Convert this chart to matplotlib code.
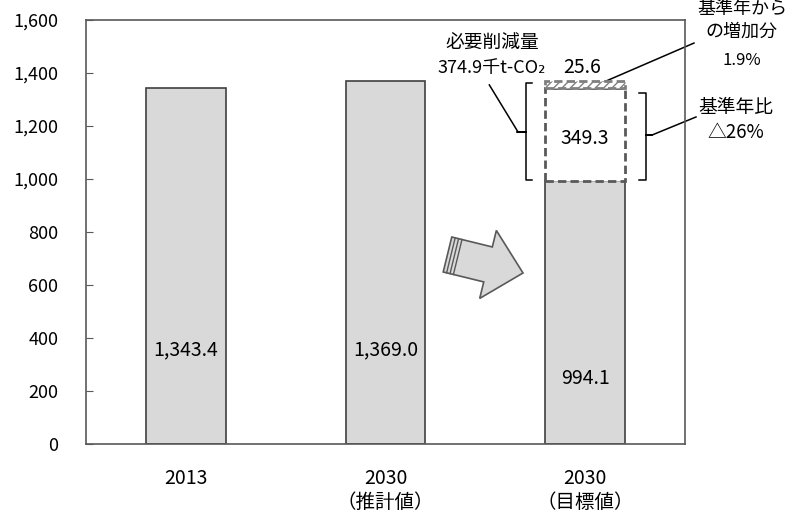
import numpy as np
import matplotlib
matplotlib.use("Agg")
import matplotlib.pyplot as plt
from matplotlib.patches import Rectangle, Polygon

plt.rcParams['font.family'] = ['Noto Sans CJK JP', 'DejaVu Sans']

# data
categories = ["2013", "2030\n（推計値）", "2030\n（目標値）"]
emissions = [1343.4, 1369.0, 994.1]
bar_labels = ["1,343.4", "1,369.0", "994.1"]
reduction_base = 349.3     # 基準年比 reduction
reduction_growth = 25.6    # 基準年からの増加分
reduction_total = 374.9
yticks = [0, 200, 400, 600, 800, 1000, 1200, 1400, 1600]

_C = {"bar": "#d9d9d9", "edge": "#404040", "axis": "#595959", "dash": "#595959"}

W, H = 792, 513
fig = plt.figure(figsize=(W / 100, H / 100), dpi=100)
ax = fig.add_axes([86 / W, 1 - 444 / H, (685 - 86) / W, (444 - 20) / H])

x = np.arange(len(categories))
bw = 0.4
ax.bar(x, emissions, width=bw, color=_C["bar"], edgecolor=_C["edge"], lw=1.2, zorder=2)

# stacked reduction boxes on the target bar
top0 = emissions[2]
ax.add_patch(Rectangle((x[2] - bw / 2, top0), bw, reduction_base, facecolor="white",
                       edgecolor=_C["dash"], lw=2, ls=(0, (3, 1.5)), zorder=3))
ax.add_patch(Rectangle((x[2] - bw / 2, top0 + reduction_base), bw, reduction_growth,
                       facecolor="white", edgecolor="#7f7f7f", hatch="////", lw=2,
                       ls=(0, (3, 1.5)), zorder=3))

ax.set_xlim(-0.5, 2.5)
ax.set_ylim(0, 1600)
ax.set_yticks(yticks)
ax.set_yticklabels([f"{v:,}" for v in yticks], fontsize=13)
ax.set_xticks(x)
ax.set_xticklabels(categories, fontsize=14, linespacing=1.2)
ax.tick_params(axis="y", direction="in", length=5, pad=20, color=_C["axis"])
ax.tick_params(axis="x", length=0, pad=17)
for s in ax.spines.values():
    s.set_color(_C["axis"])
    s.set_linewidth(1.2)

# value labels
label_y = [355, 355, 249]
for xi, ly, t in zip(x, label_y, bar_labels):
    ax.text(xi, ly, t, ha="center", va="center", fontsize=14, zorder=4)
ax.text(x[2], top0 + reduction_base / 2 - 15, f"{reduction_base:.1f}", ha="center",
        va="center", fontsize=14, zorder=4)
ax.text(1.985, 1419, f"{reduction_growth:.1f}", ha="center", va="center", fontsize=14)
ax.text(1.535, 1517, "必要削減量", ha="center", va="center", fontsize=13.5)
ax.text(1.53, 1419, f"{reduction_total:.1f}千t-CO₂", ha="center", va="center", fontsize=13)

kw = dict(ha="center", va="center", clip_on=False)
ax.text(2.785, 1643, "基準年から", fontsize=13, **kw)
ax.text(2.785, 1557, "の増加分", fontsize=13, **kw)
ax.text(2.785, 1449, "1.9%", fontsize=12, **kw)
ax.text(2.755, 1268, "基準年比", fontsize=13.5, **kw)
ax.text(2.755, 1174, "△26%", fontsize=13.5, **kw)

# braces
lk = dict(color="black", lw=1.1, clip_on=False)
ax.plot([1.735, 1.705, 1.705, 1.66, 1.705, 1.705, 1.735],
        [1362, 1362, 1179, 1179, 1179, 996, 996], **lk)
ax.plot([2.27, 2.305, 2.305, 2.335, 2.305, 2.305, 2.27],
        [1325, 1325, 1166, 1166, 1166, 996, 996], **lk)
# leader lines
ax.plot([1.52, 1.66], [1355, 1182], **lk)
ax.plot([2.335, 2.555], [1166, 1234], **lk)
ax.plot([2.035, 2.545], [1347, 1513], **lk)

# block arrow (pixel geometry -> figure fraction)
tail = np.array([447.5, 254.5])
tip = np.array([523.0, 273.0])
d = (tip - tail) / np.linalg.norm(tip - tail)
n = np.array([-d[1], d[0]])
hl, tw, hw = 36, 18, 35
base = tip - d * hl
pts = [tail + n * tw, base + n * tw, base + n * hw, tip, base - n * hw, base - n * tw, tail - n * tw]
to_fig = lambda p: (p[0] / W, 1 - p[1] / H)
fig.patches.append(Polygon([to_fig(p) for p in pts], closed=True, transform=fig.transFigure,
                           facecolor=_C["bar"], edgecolor=_C["axis"], lw=1.2))
for off in (3.5, 7, 10.5):
    a, b = tail + d * off + n * tw, tail + d * off - n * tw
    fig.lines.append(plt.Line2D(*zip(to_fig(a), to_fig(b)), transform=fig.transFigure,
                                color=_C["axis"], lw=1))

fig.savefig("out.png", dpi=100)
